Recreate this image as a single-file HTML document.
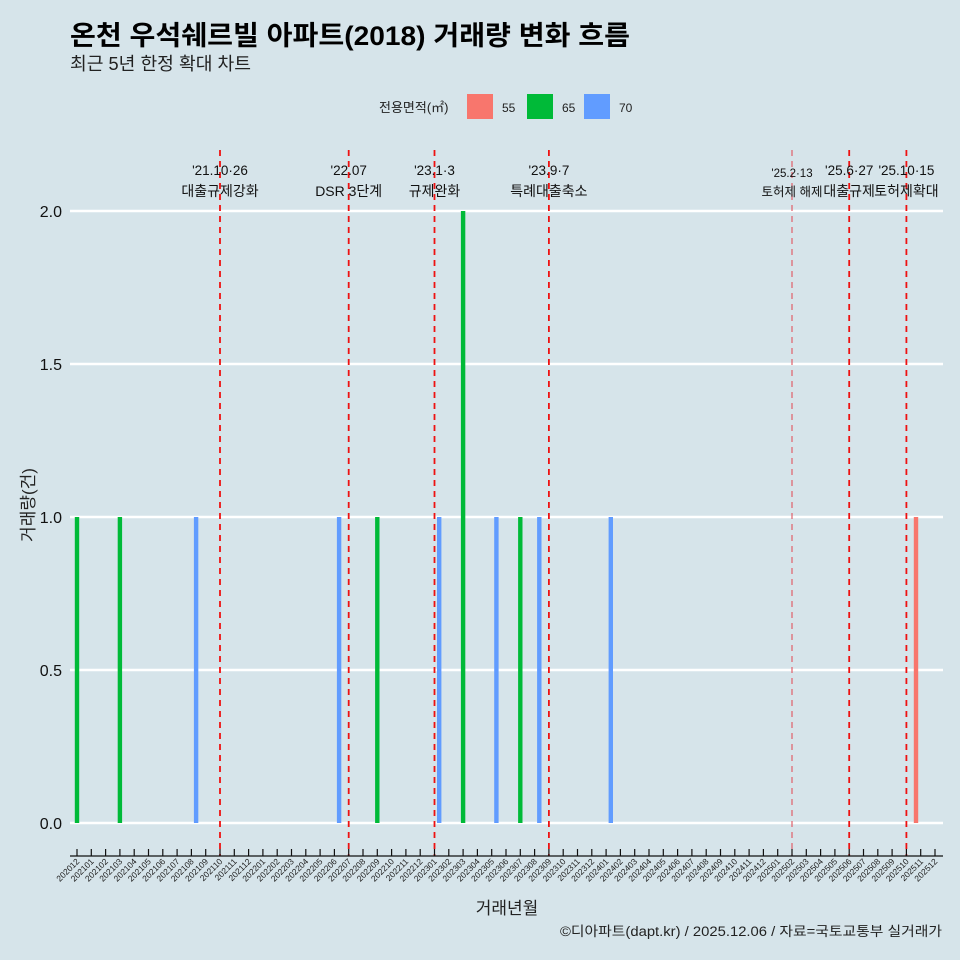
<!DOCTYPE html>
<html><head><meta charset="utf-8"><style>
body{margin:0;background:#d6e4ea;}
svg{display:block;font-family:"Liberation Sans","Noto Sans CJK KR",sans-serif;}
</style></head><body>
<svg id="chart" width="960" height="960" viewBox="0 0 960 960">
<rect width="960" height="960" fill="#d6e4ea"/>
<text x="70" y="45" font-size="27" font-weight="bold" fill="#000" textLength="560" lengthAdjust="spacingAndGlyphs">온천 우석쉐르빌 아파트(2018) 거래량 변화 흐름</text>
<text x="70" y="70" font-size="18" fill="#222" textLength="181" lengthAdjust="spacingAndGlyphs">최근 5년 한정 확대 차트</text>
<g>
<text x="379" y="112" font-size="13" fill="#222">전용면적(㎡)</text>
<rect x="467" y="94" width="26" height="25" fill="#f8766d"/>
<text x="502" y="112" font-size="12" fill="#222">55</text>
<rect x="527" y="94" width="26" height="25" fill="#00ba38"/>
<text x="562" y="112" font-size="12" fill="#222">65</text>
<rect x="584" y="94" width="26" height="25" fill="#619cff"/>
<text x="619" y="112" font-size="12" fill="#222">70</text>
</g>
<g id="grid"></g><g id="bars"></g><g id="vlines"></g><g id="xaxis"></g><g id="yaxis"></g>
<text x="507" y="914" font-size="17" text-anchor="middle" fill="#222">거래년월</text>
<text transform="translate(34,505) rotate(-90)" font-size="17" text-anchor="middle" fill="#222">거래량(건)</text>
<text x="942" y="936" font-size="13.5" text-anchor="end" fill="#222" textLength="382" lengthAdjust="spacingAndGlyphs">©디아파트(dapt.kr) / 2025.12.06 / 자료=국토교통부 실거래가</text>
</svg>
<script>
const months=[];
for(let y=2020;y<=2025;y++)for(let m=1;m<=12;m++){const k=y*100+m;if(k>=202012&&k<=202512)months.push(String(k));}
const barMonths=["202012","202103","202108","202206","202209","202301","202303","202305","202307","202308","202401","202511"];
const barSizes=["65","65","70","70","65","70","65","70","65","70","70","55"];
const barValues=[1,1,1,1,1,1,2,1,1,1,1,1];
const yTicks=[0,0.5,1,1.5,2];
const yTickLabels=["0.0","0.5","1.0","1.5","2.0"];
const eventMonths=["202110","202207","202301","202309","202502","202506","202510"];
const eventDates=["'21.10·26","'22.07","'23.1·3","'23.9·7","'25.2·13","'25.6·27","'25.10·15"];
const eventLabels=["대출규제강화","DSR 3단계","규제완화","특례대출축소","토허제 해제","대출규제","토허제확대"];
const colors={"55":"#f8766d","65":"#00ba38","70":"#619cff"};
const dodge={"55":-4.7,"65":0,"70":4.7};
const NS="http://www.w3.org/2000/svg";
const x=i=>77+i*14.3;
const xm=m=>x(months.indexOf(m));
const y=v=>823-v*306;
function mk(tag,attrs,parent,text){const e=document.createElementNS(NS,tag);for(const k in attrs)e.setAttribute(k,attrs[k]);if(text!==undefined)e.textContent=text;document.getElementById(parent).appendChild(e);return e;}
yTicks.forEach((t,i)=>{
 let g=mk('line',{x1:70,x2:943,y1:y(t),y2:y(t),stroke:'#fff','stroke-width':2.5},'grid');
 
 
 let l=mk('text',{x:62,y:y(t)+6,'font-size':16,'text-anchor':'end',fill:'#111'},'yaxis',yTickLabels[i]);
 
 
});
barMonths.forEach((m,i)=>{
 const cx=xm(m)+dodge[barSizes[i]];
 let b=mk('rect',{x:cx-2.2,y:y(barValues[i]),width:4.4,height:y(0)-y(barValues[i]),fill:colors[barSizes[i]]},'bars');
 
 
});
eventMonths.forEach((m,i)=>{
 const cx=xm(m);const light=m==="202502";
 let l=mk('line',{x1:cx,x2:cx,y1:150,y2:856,stroke:light?'#e0606a':'#ee1111','stroke-width':light?1.2:1.8,'stroke-dasharray':'6,5'},'vlines');
 
 
 let d=mk('text',{x:cx,y:light?177:175,'font-size':light?11.5:13.5,'text-anchor':'middle',fill:'#111'},'vlines',eventDates[i]);
 
 
 let t=mk('text',{x:cx,y:196,'font-size':light?12.5:14,'text-anchor':'middle',fill:'#111'},'vlines',eventLabels[i]);
 
 
});
let ax=mk('line',{x1:70,x2:943,y1:856,y2:856,stroke:'#111','stroke-width':1.2},'xaxis');


months.forEach((m,i)=>{
 let t=mk('line',{x1:x(i),x2:x(i),y1:849,y2:856,stroke:'#111','stroke-width':1.2},'xaxis');
 
 
 let l=mk('text',{transform:`translate(${x(i)+3},862) rotate(-45)`,'font-size':8.5,'text-anchor':'end',fill:'#222'},'xaxis',m);
 
 
});
</script>
</body></html>
